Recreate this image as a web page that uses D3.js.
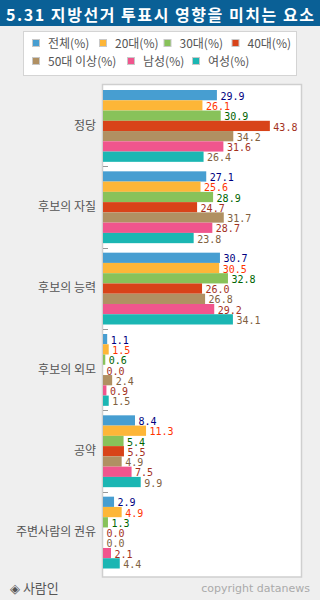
<!DOCTYPE html>
<html><head><meta charset="utf-8">
<script src="https://cdn.jsdelivr.net/npm/d3@7"></script>
<style>
html,body{margin:0;padding:0;background:#efefef;}
svg{display:block;}
</style></head>
<body>
<svg id="c" width="320" height="600"></svg>
<script>
const title = "5.31 지방선거 투표시 영향을 미치는 요소";
const categories = ["정당","후보의 자질","후보의 능력","후보의 외모","공약","주변사람의 권유"];
const seriesNames = ["전체(%)","20대(%)","30대(%)","40대(%)","50대 이상(%)","남성(%)","여성(%)"];
const totalVals = [29.9, 27.1, 30.7, 1.1, 8.4, 2.9];
const age20Vals = [26.1, 25.6, 30.5, 1.5, 11.3, 4.9];
const age30Vals = [30.9, 28.9, 32.8, 0.6, 5.4, 1.3];
const age40Vals = [43.8, 24.7, 26.0, 0.0, 5.5, 0.0];
const age50Vals = [34.2, 31.7, 26.8, 2.4, 4.9, 0.0];
const maleVals = [31.6, 28.7, 29.2, 0.9, 7.5, 2.1];
const femaleVals = [26.4, 23.8, 34.1, 1.5, 9.9, 4.4];
const seriesValues = [totalVals, age20Vals, age30Vals, age40Vals, age50Vals, maleVals, femaleVals];
const barColors = ["#479ed1","#fdb638","#88c25a","#d84319","#b09062","#f0558d","#1bb6b3"];
const labelColors = ["#000080","#ff3300","#006400","#a3301c","#806040","#a3301c","#806040"];
const sourceText = "◈ 사람인";
const creditText = "copyright datanews";

const svg = d3.select("#c");
const KR = "'Noto Sans CJK KR','Noto Sans',sans-serif";

// title bar
svg.append("rect").attr("x",0).attr("y",0).attr("width",320).attr("height",26).attr("fill","#0a6096");
svg.append("text").attr("x",6).attr("y",20.5).attr("fill","#fff")
  .attr("font-family",KR).attr("font-size",16).attr("font-weight","bold")
  .attr("textLength",308).attr("lengthAdjust","spacing").text(title);

// legend
svg.append("rect").attr("x",23.5).attr("y",31.5).attr("width",273).attr("height",44)
  .attr("fill","#fff").attr("stroke","#d4d4d4");
const legendPos = [[32,44],[99,44],[163.5,44],[231.5,44],[32,62],[127,62],[192,62]];
const lg = svg.append("g");
seriesNames.forEach((n,i)=>{
  const [lx,ly] = legendPos[i];
  lg.append("rect").attr("x",lx+0.5).attr("y",ly-4.5).attr("width",7).attr("height",7)
    .attr("fill",barColors[i]).attr("stroke","#c8c8c8");
  lg.append("text").attr("x",lx+16).attr("y",ly+4).attr("fill","#555")
    .attr("font-family",KR).attr("font-size",12).text(n);
});

// plot area
const plotL = 102.5, plotR = 301.5, plotT = 84.5, plotB = 577;
svg.append("rect").attr("x",plotL).attr("y",plotT).attr("width",plotR-plotL).attr("height",plotB-plotT)
  .attr("fill","#fff").attr("stroke","#cfcfcf").attr("stroke-width",1.5);

const x = d3.scaleLinear().domain([0,52.5]).range([103,303]);
const y0 = d3.scaleBand().domain(categories).range([85,573]).paddingInner(0).paddingOuter(0);
const y1 = d3.scaleBand().domain(d3.range(seriesNames.length)).range([5, y0.bandwidth()-4.5]).padding(0);

// category axis
const ax = svg.append("g").attr("transform","translate(103,0)")
  .call(d3.axisLeft(y0).tickSize(0).tickPadding(7));
ax.select(".domain").remove();
ax.selectAll("text").attr("font-family",KR).attr("font-size",12).attr("fill","#555");

// boundary dashes
svg.append("g").selectAll("line").data(categories.slice(1)).join("line")
  .attr("x1",103).attr("x2",108)
  .attr("y1",d=>Math.round(y0(d))+0.5).attr("y2",d=>Math.round(y0(d))+0.5)
  .attr("stroke","#999");

// bars
const groups = svg.append("g").selectAll("g").data(categories).join("g")
  .attr("transform",d=>`translate(0,${y0(d)})`);
groups.each(function(cat,ci){
  const g = d3.select(this);
  seriesValues.forEach((vals,si)=>{
    const v = vals[ci];
    g.append("rect").attr("x",x(0)).attr("y",y1(si)).attr("width",x(v)-x(0)).attr("height",y1.bandwidth())
      .attr("fill",barColors[si]);
  });
  seriesValues.forEach((vals,si)=>{
    const v = vals[ci];
    g.append("text").attr("x",x(v)+3.5).attr("y",y1(si)+y1.bandwidth()-0.5)
      .attr("font-family","'DejaVu Sans Mono',monospace").attr("font-size",10)
      .attr("fill",labelColors[si]).text(v.toFixed(1));
  });
});

// footer
svg.append("text").attr("x",10).attr("y",593).attr("fill","#555")
  .attr("font-family",KR).attr("font-size",13).text(sourceText);
svg.append("text").attr("x",310).attr("y",592).attr("text-anchor","end").attr("fill","#aaa")
  .attr("font-family","'DejaVu Sans',sans-serif").attr("font-size",11).text(creditText);
</script>
</body></html>
